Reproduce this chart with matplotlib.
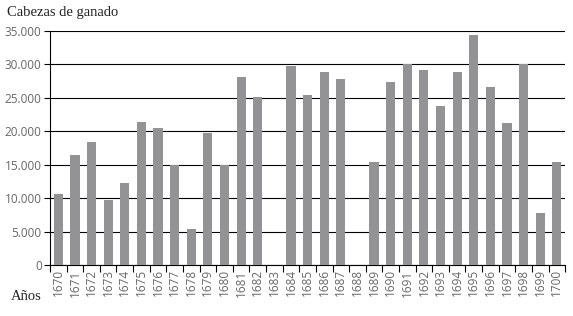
import matplotlib
matplotlib.use('Agg')
import matplotlib.pyplot as plt
from matplotlib.ticker import FuncFormatter

# años y cabezas de ganado
anios = list(range(1670, 1701))
cabezas = [10600, 16500, 18400, 9700, 12300, 21400, 20500, 15000, 5400, 19700,
           14900, 28100, 25100, 0, 29800, 25500, 28900, 27800, 0, 15400,
           27300, 30000, 29200, 23800, 28900, 34400, 26600, 21300, 30000, 7800,
           15400]
yticks = [0, 5000, 10000, 15000, 20000, 25000, 30000, 35000]

color_barra = '#939395'
color_texto = '#666666'

fig = plt.figure(figsize=(5.73, 3.16), dpi=100)
ax = fig.add_axes([0.0873, 0.161, 0.899, 0.741])

x = list(range(len(anios)))
ax.bar(x, cabezas, width=0.55, color=color_barra, zorder=3)

ax.set_ylim(0, 35000)
ax.set_xlim(-0.5, len(anios) - 0.5)
ax.set_yticks(yticks)
ax.yaxis.set_major_formatter(FuncFormatter(lambda v, p: f'{int(v):,}'.replace(',', '.')))
ax.grid(axis='y', color='black', linewidth=0.8, zorder=1)

# ticks del eje x en los bordes entre barras, etiquetas al centro
ax.set_xticks([i - 0.5 for i in range(len(anios) + 1)])
ax.set_xticklabels([])
ax.set_xticks(x, minor=True)
ax.set_xticklabels([str(a) for a in anios], minor=True, rotation=90,
                   fontsize=8.5, color=color_texto, family='Open Sans')
ax.tick_params(axis='x', which='major', length=5, width=0.8, color='black')
ax.tick_params(axis='x', which='minor', length=0, pad=3)
ax.tick_params(axis='y', length=4, width=0.8, color='black', labelsize=8.5,
               labelcolor=color_texto, pad=2)
for t in ax.get_yticklabels():
    t.set_family('Open Sans')

for s in ['top', 'right']:
    ax.spines[s].set_visible(False)
ax.spines['left'].set_linewidth(0.8)
ax.spines['bottom'].set_linewidth(0.8)

fig.text(0.012, 0.962, 'Cabezas de ganado', fontsize=10.5, family='Liberation Serif',
         color='#222222', va='center', ha='left')
fig.text(0.019, 0.063, 'Años', fontsize=10.5, family='Liberation Serif',
         color='#222222', va='center', ha='left')

fig.savefig('out.png', dpi=100)
